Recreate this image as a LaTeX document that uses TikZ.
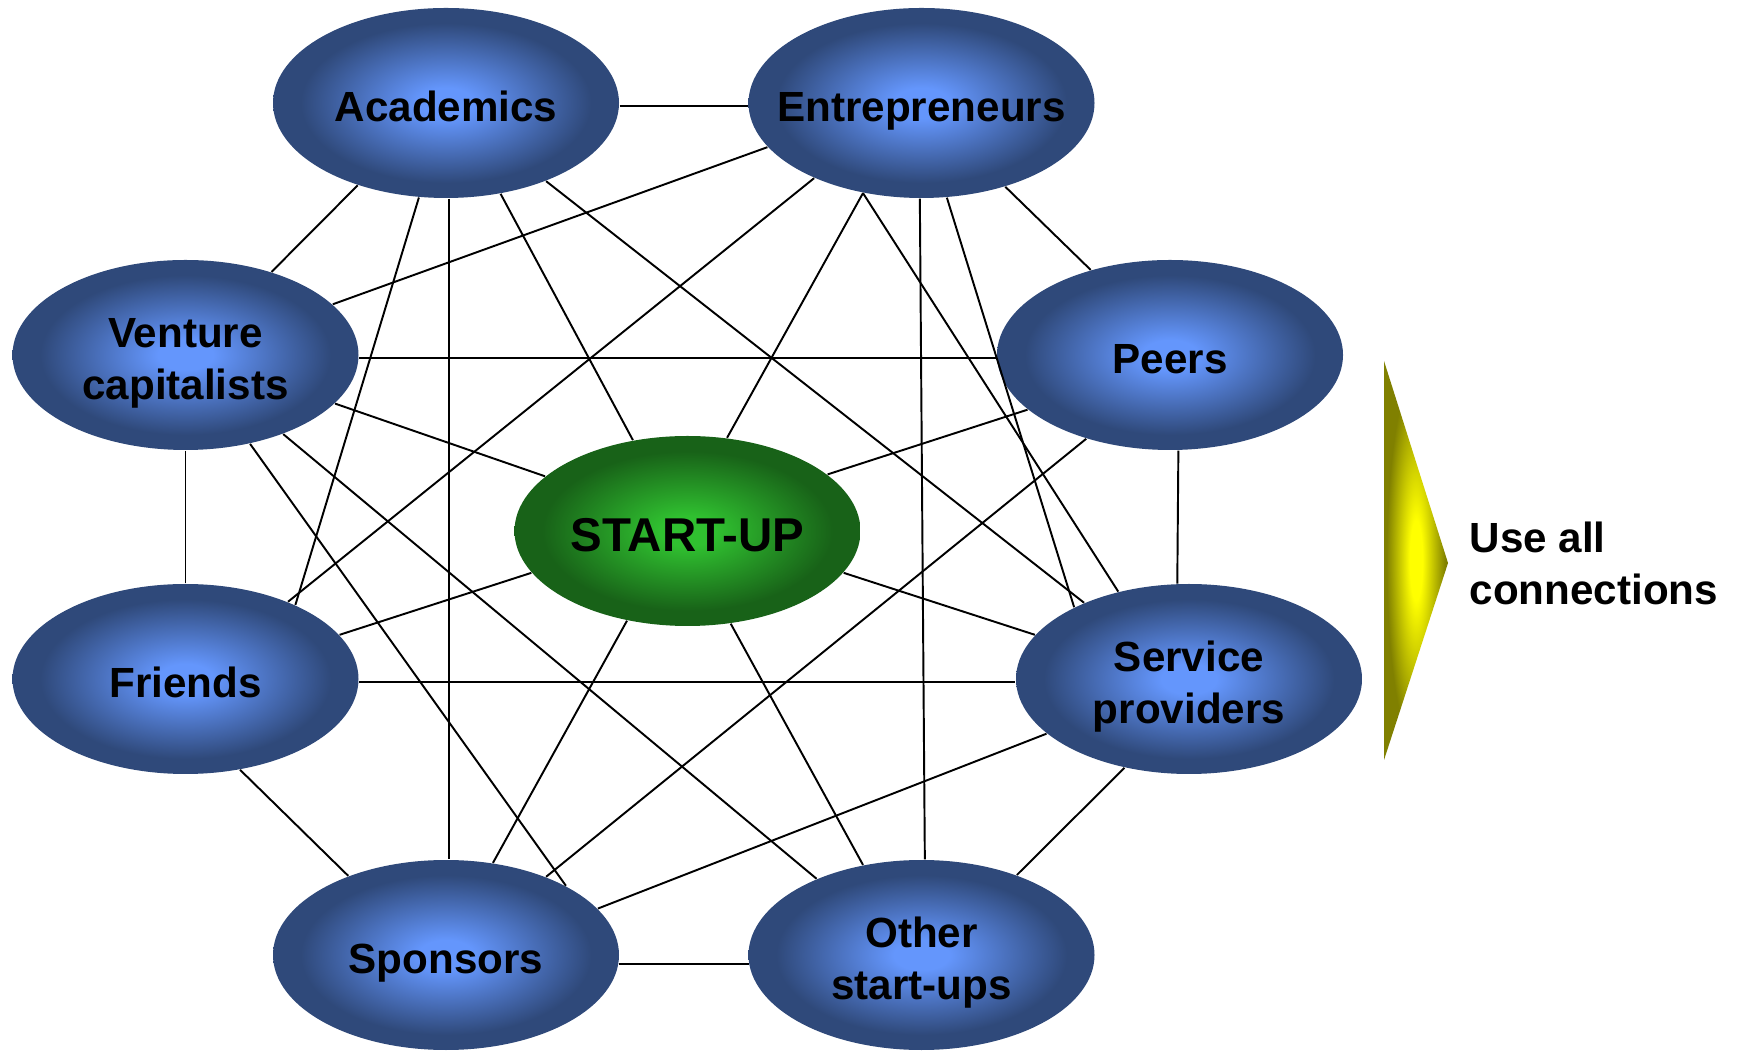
\documentclass[tikz,border=0pt]{standalone}
\usepackage{fontspec}
\setmainfont{Liberation Sans}
\usetikzlibrary{shapes.geometric, positioning}

\definecolor{blueIn}{RGB}{100,150,252}
\definecolor{blueOut}{RGB}{47,73,122}
\definecolor{greenIn}{RGB}{48,192,48}
\definecolor{greenOut}{RGB}{24,98,24}
\definecolor{glowIn}{RGB}{255,255,0}
\definecolor{glowOut}{RGB}{128,128,0}

\pgfdeclareradialshading{blueblob}{\pgfpoint{0bp}{0bp}}{color(0bp)=(blueIn); color(4bp)=(blueIn); color(21bp)=(blueOut); color(50bp)=(blueOut)}
\pgfdeclareradialshading{greenblob}{\pgfpoint{0bp}{0bp}}{color(0bp)=(greenIn); color(4bp)=(greenIn); color(21bp)=(greenOut); color(50bp)=(greenOut)}
\pgfdeclareradialshading{arrowglow}{\pgfpoint{0bp}{0bp}}{color(0bp)=(glowIn); color(5bp)=(glowIn); color(23bp)=(glowOut); color(50bp)=(glowOut)}

\begin{document}
\begin{tikzpicture}[
    x=0.1mm, y=-0.1mm,
    actor/.style={ellipse, shade, shading=blueblob, minimum width=3.46cm, minimum height=1.9cm, inner ysep=0pt, inner xsep=-0.4cm, align=center, text height=10.5pt, text depth=0pt, font=\fontsize{12}{15}\selectfont\bfseries},
    pair/.style={actor, text height=25.6pt}, % two-line labels
    core/.style={actor, shading=greenblob, text height=11.4pt, font=\fontsize{13.5}{16}\selectfont\bfseries},
    link/.style={line width=0.55pt},
    note/.style={align=left, inner sep=0pt, font=\fontsize{12}{14.8}\selectfont\bfseries}
]
\useasboundingbox (0,0) rectangle (1740,1054);

% Network members
\node[actor] (acad) at (446,103) {Academics};
\node[actor] (entre) at (921.5,103) {Entrepreneurs};
\node[pair] (vc) at (185.5,355) {Venture\\capitalists};
\node[actor] (peers) at (1170,355) {Peers};
\node[core] (start) at (687.5,531) {START-UP}; % the centre of the web
\node[actor] (friends) at (185.5,679) {Friends};
\node[pair] (service) at (1189,679) {Service\\providers};
\node[actor] (spons) at (446,955) {Sponsors};
\node[pair] (other) at (921.5,955) {Other\\start-ups};

% Connections
\draw[link] (acad.-1) -- (entre.181);
\draw[link] (acad.-137) -- (vc.44);
\draw[link] (acad.-106) -- (friends.34);
\draw[link] (acad.-88) -- (spons.88);
\draw[link] (acad.-59) -- (start.121);
\draw[link] (acad.-38) -- (service.144);
\draw[link] (entre.-164) -- (vc.19);
\draw[link] (entre.-145) -- (friends.37.5);
\draw[link] (entre.-123.5) -- (start.67.6);
\draw[link] (entre.-123.5) -- (service.129.6);
\draw[link] (entre.-91) -- (other.88.5);
\draw[link] (entre.-75) -- (service.148.7);
\draw[link] (entre.-45) -- (peers.133);
\draw[link] (vc.-1) -- (peers.181);
\draw[link] (vc.-18.7) -- (start.159.5);
\draw[link] (vc.-39.6) -- (other.144.3);
\draw[link] (vc.-54.2) -- (spons.30.3);
\draw[link] (vc.south) -- (friends.north);
\draw[link] (peers.-159.4) -- (start.22.7);
\draw[link] (peers.-135.7) -- (spons.38.9);
\draw[link] (peers.-85.8) -- (service.97.2);
\draw[link] (start.-165.3) -- (friends.16.4);
\draw[link] (start.-15.6) -- (service.164.1);
\draw[link] (start.-124.3) -- (spons.63.7);
\draw[link] (start.-65.1) -- (other.123.8);
\draw[link] (friends.-1) -- (service.181);
\draw[link] (friends.-59.1) -- (spons.141);
\draw[link] (service.-159.3) -- (spons.17.9);
\draw[link] (service.-126.1) -- (other.40.9);
\draw[link] (spons.-3) -- (other.183);

% Arrow and message
\coordinate (tip) at (1448,563);
\shade[shading=arrowglow] (1384,361) -- (tip) -- (1384,760) -- cycle;
\node[note, right=0.21cm of tip] (useall) {Use all\\connections};

\end{tikzpicture}
\end{document}
